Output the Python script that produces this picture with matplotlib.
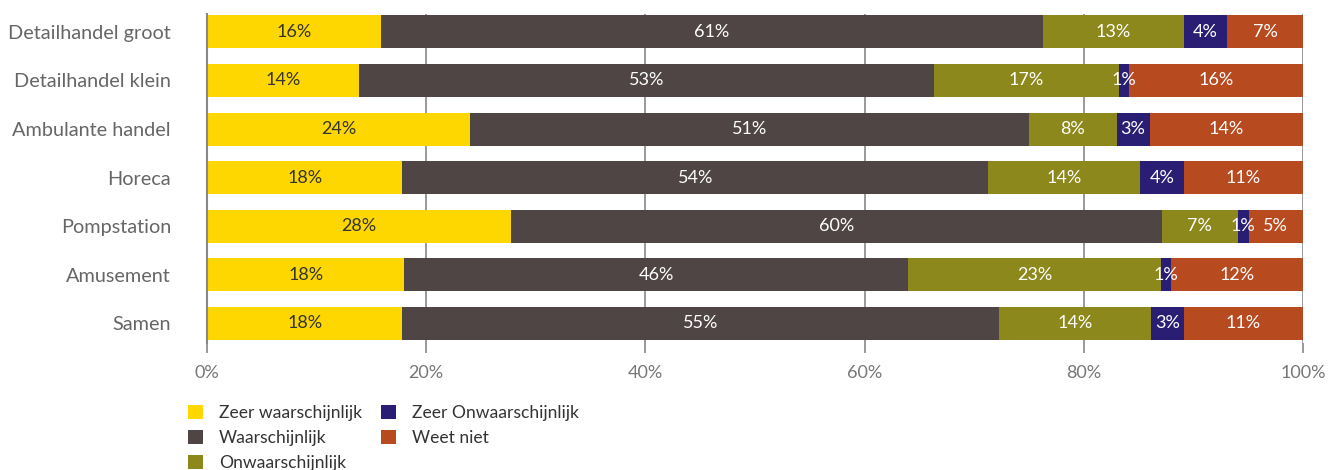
import matplotlib
matplotlib.use("Agg")
import matplotlib.pyplot as plt
import numpy as np
from matplotlib.patches import Patch

plt.rcParams['font.family'] = ['Lato', 'DejaVu Sans']

categories = ["Detailhandel groot", "Detailhandel klein", "Ambulante handel",
              "Horeca", "Pompstation", "Amusement", "Samen"]
series_names = ["Zeer waarschijnlijk", "Waarschijnlijk", "Onwaarschijnlijk",
                "Zeer Onwaarschijnlijk", "Weet niet"]
zeer_waarschijnlijk = [16, 14, 24, 18, 28, 18, 18]
waarschijnlijk = [61, 53, 51, 54, 60, 46, 55]
onwaarschijnlijk = [13, 17, 8, 14, 7, 23, 14]
zeer_onwaarschijnlijk = [4, 1, 3, 4, 1, 1, 3]
weet_niet = [7, 16, 14, 11, 5, 12, 11]
x_ticks = [0, 20, 40, 60, 80, 100]
x_ticklabels = ["0%", "20%", "40%", "60%", "80%", "100%"]

colors = ["#FFD700", "#4F4545", "#8C881B", "#2A1E74", "#B84A1F"]
text_colors = ["#333333", "white", "white", "white", "white"]

data = np.array([zeer_waarschijnlijk, waarschijnlijk, onwaarschijnlijk,
                 zeer_onwaarschijnlijk, weet_niet], dtype=float)
totals = data.sum(axis=0)
norm = data / totals * 100

W, H = 1338, 470
fig = plt.figure(figsize=(W / 100, H / 100), dpi=100)
ax = fig.add_axes([207 / W, 1 - 343 / H, (1303 - 207) / W, (343 - 14) / H])

y = np.arange(len(categories))
left = np.zeros(len(categories))
for i in range(len(series_names)):
    ax.barh(y, norm[i], left=left, height=0.68, color=colors[i], zorder=3,
            label=series_names[i])
    for j in range(len(categories)):
        ax.text(left[j] + norm[i][j] / 2, y[j], f"{int(data[i][j])}%",
                ha="center", va="center", color=text_colors[i], fontsize=13,
                zorder=4)
    left += norm[i]

ax.set_xlim(0, 100)
ax.set_ylim(6.41, -0.37)
ax.set_yticks(y)
ax.set_yticklabels(categories, fontsize=14.3, color="#666666")
ax.set_xticks(x_ticks)
ax.set_xticklabels(x_ticklabels, fontsize=13, color="#777777")
ax.tick_params(axis="y", length=0, pad=26)
ax.tick_params(axis="x", length=7, color="#888888", width=1.2, pad=9)
ax.grid(axis="x", color="#888888", linewidth=1.2, zorder=1)
for s in ["top", "right", "bottom"]:
    ax.spines[s].set_visible(False)
ax.spines["left"].set_color("#888888")
ax.spines["left"].set_linewidth(1.5)
ax.spines["left"].set_zorder(5)

handles = [Patch(facecolor=c, edgecolor="none") for c in colors]
leg = fig.legend(handles, series_names, loc="upper left",
                 bbox_to_anchor=(188 / W, 1 - 405 / H), ncol=2, frameon=False,
                 fontsize=12.6, handlelength=0.85, handleheight=0.85,
                 handletextpad=0.9, columnspacing=1.1, labelspacing=0.5,
                 borderaxespad=0, borderpad=0)
for t in leg.get_texts():
    t.set_color("#333333")

fig.savefig("out.png", dpi=100)
